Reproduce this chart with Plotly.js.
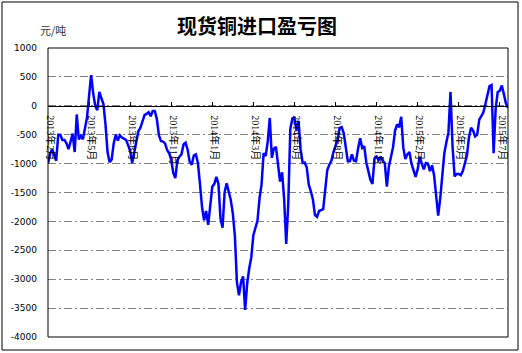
<!DOCTYPE html>
<html>
<head>
<meta charset="utf-8">
<script src="https://cdn.plot.ly/plotly-3.0.1.min.js"></script>
<style>html,body{margin:0;padding:0;background:#fff;}#chart{width:522px;height:353px;}</style>
</head>
<body>
<div id="chart"></div>
<script>
// 现货铜进口盈亏 (元/吨), one value per sampled trading day
var profit = [
-1000,-830,-750,-850,-950,-500,-500,-590,-590,-650,
-750,-620,-480,-800,-150,-580,-520,-580,-380,-200,
170,530,220,0,-75,240,130,30,-320,-800,
-975,-930,-650,-500,-600,-510,-550,-570,-590,-680,
-780,-990,-800,-680,-440,-380,-280,-160,-140,-110,
-180,-90,-90,-230,-510,-610,-620,-650,-765,-820,
-930,-1160,-1250,-940,-880,-840,-670,-640,-760,-970,
-1020,-860,-840,-990,-1350,-1750,-1980,-1820,-2060,-1690,
-1400,-1350,-1230,-1350,-1950,-2110,-1500,-1340,-1500,-1630,
-1860,-2250,-3050,-3280,-3050,-2950,-3530,-3070,-2810,-2620,
-2240,-2100,-1990,-1600,-1360,-820,-870,-620,-210,-900,
-740,-710,-1050,-1310,-1150,-1620,-2390,-1700,-400,-220,
-210,-430,-260,-750,-990,-980,-1070,-1370,-1480,-1620,
-1890,-1920,-1820,-1800,-1790,-1450,-1110,-1020,-950,-800,
-690,-590,-390,-370,-470,-740,-960,-960,-840,-950,
-960,-740,-560,-730,-700,-980,-1110,-1280,-1350,-910,
-880,-940,-880,-950,-990,-1400,-1050,-860,-720,-430,
-320,-370,-190,-720,-920,-840,-800,-1000,-1100,-1230,
-1100,-880,-1000,-1100,-990,-1000,-1130,-1030,-1200,-1600,
-1900,-1600,-1250,-820,-630,-460,240,-700,-1220,-1180,
-1180,-1200,-1130,-990,-860,-540,-380,-430,-530,-500,
-240,-180,-115,30,170,340,360,-820,-50,240,
260,350,200,40,-40
];
var dayIndex = profit.map(function(_, i){ return i; });

var xTickIndex = [0,20,40,60,80,100,120,140,160,180,200,220];
var xTickLabels = ["2013年2月","2013年5月","2013年8月","2013年11月","2014年1月","2014年3月",
                   "2014年6月","2014年8月","2014年11月","2015年2月","2015年5月","2015年7月"];
var yTickValues = [1000,500,0,-500,-1000,-1500,-2000,-2500,-3000,-3500,-4000];
var yTickLabels = ["1000","500","0","-500","-1000","-1500","-2000","-2500","-3000","-3500","-4000"];

var W = 522, H = 353, L = 48, R = 14, T = 48, B = 16;
var pw = W - L - R, ph = H - T - B;

var trace = {
  x: dayIndex, y: profit, type: 'scatter', mode: 'lines',
  line: {color: '#0000FF', width: 2.5},
  hoverinfo: 'skip'
};

var layout = {
  width: W, height: H,
  margin: {l: L, r: R, t: T, b: B, pad: 0},
  paper_bgcolor: '#ffffff', plot_bgcolor: '#ffffff',
  showlegend: false,
  title: {
    text: '<b>现货铜进口盈亏图</b>',
    font: {family: '"Noto Sans CJK SC", sans-serif', size: 20, color: '#000'},
    x: 257 / W, xref: 'container', xanchor: 'center',
    y: 1 - 27 / H, yref: 'container', yanchor: 'middle'
  },
  xaxis: {
    type: 'linear', range: [0, profit.length - 1],
    anchor: 'free', position: 0.8,
    tickmode: 'array', tickvals: xTickIndex, ticktext: xTickLabels,
    tickangle: 90, ticks: 'inside', ticklen: 4, tickcolor: '#000', tickwidth: 1,
    ticklabelstandoff: 6, ticklabelshift: 2,
    tickfont: {family: '"Liberation Serif", "Noto Sans CJK SC", serif', size: 10, color: '#000'},
    showline: true, linecolor: '#000', linewidth: 1.5,
    showgrid: false, zeroline: false, fixedrange: true
  },
  yaxis: {
    range: [-4000, 1000],
    tickmode: 'array', tickvals: yTickValues, ticktext: yTickLabels,
    ticks: '', ticklabelstandoff: 10,
    tickfont: {family: '"DejaVu Sans", sans-serif', size: 9, color: '#000'},
    showgrid: true, gridcolor: '#808080', gridwidth: 1, griddash: '8px,3px,2px,3px',
    zeroline: false, showline: false, fixedrange: true
  },
  shapes: [
    {type: 'rect', xref: 'paper', yref: 'paper', x0: 0, x1: 1, y0: 0, y1: 1,
     line: {color: '#000', width: 1}, fillcolor: 'rgba(0,0,0,0)', layer: 'above'},
    {type: 'rect', xref: 'paper', yref: 'paper',
     x0: (2 - L) / pw, x1: (518 - L) / pw, y0: (H - B - 350) / ph, y1: (H - B - 2) / ph,
     line: {color: '#000', width: 1}, fillcolor: 'rgba(0,0,0,0)', layer: 'below'}
  ],
  annotations: [
    {text: '元/吨', xref: 'paper', yref: 'paper', x: (53 - L) / pw, y: (H - B - 30) / ph,
     xanchor: 'center', yanchor: 'middle', showarrow: false,
     font: {family: '"Noto Sans CJK SC", sans-serif', size: 11, color: '#333'}}
  ]
};

Plotly.newPlot('chart', [trace], layout, {displayModeBar: false, staticPlot: true});
</script>
</body>
</html>
